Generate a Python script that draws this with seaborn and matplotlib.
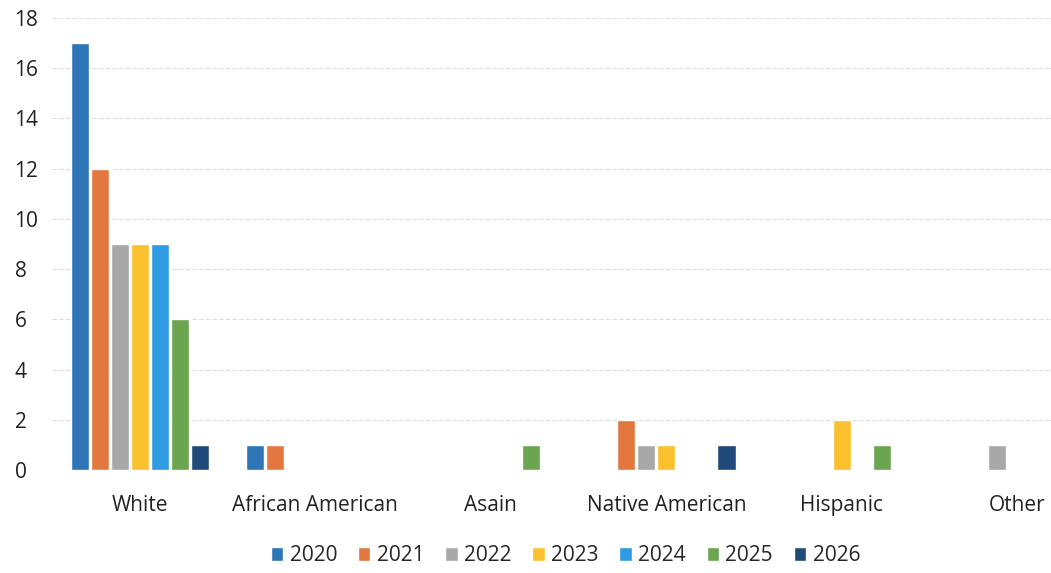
import pandas as pd
import matplotlib
matplotlib.use('Agg')
import matplotlib.pyplot as plt
import seaborn as sns

# categories and yearly counts
groups = ['White', 'African American', 'Asain', 'Native American', 'Hispanic', 'Other']
years = ['2020', '2021', '2022', '2023', '2024', '2025', '2026']
v2020 = [17, 1, 0, 0, 0, 0]
v2021 = [12, 1, 0, 2, 0, 0]
v2022 = [9, 0, 0, 1, 0, 1]
v2023 = [9, 0, 0, 1, 2, 0]
v2024 = [9, 0, 0, 0, 0, 0]
v2025 = [6, 0, 1, 0, 1, 0]
v2026 = [1, 0, 0, 1, 0, 0]
colors = ['#2E75B6', '#E2783F', '#A8A8A8', '#FBC02D', '#2F9BE3', '#6BA550', '#1F4A7A']

#build long table for seaborn
series = [v2020, v2021, v2022, v2023, v2024, v2025, v2026]
rows = []
for yr, vals in zip(years, series):
    for g, v in zip(groups, vals):
        rows.append({'group': g, 'year': yr, 'count': v})
df = pd.DataFrame(rows)

sns.set_style('white')
plt.rcParams['font.family'] = ['Open Sans', 'DejaVu Sans']

fig = plt.figure(figsize=(10.51, 5.73), dpi=100)
ax = fig.add_axes([0.0495, 0.1798, 1.002, 0.7888])

sns.barplot(data=df, x='group', y='count', hue='year', order=groups,
            hue_order=years, palette=colors, width=0.8, gap=0.1,
            saturation=1, ax=ax)

ax.set_ylim(0, 18)
ax.set_yticks(range(0, 19, 2))
ax.set_xlim(-0.5, 5.5)
ax.set_xlabel('')
ax.set_ylabel('')
ax.grid(axis='y', color='#DCDCDC', linestyle=(0, (4, 2)), linewidth=0.8)
ax.set_axisbelow(True)
for s in ax.spines.values():
    s.set_visible(False)
ax.tick_params(axis='y', length=0, labelsize=15, pad=27, colors='#222222')
ax.tick_params(axis='x', length=0, labelsize=15, pad=18, colors='#222222')
for lbl in ax.get_yticklabels():
    lbl.set_horizontalalignment('left')

#legend under the chart
ax.legend(loc='center', bbox_to_anchor=(0.538, 0.03), bbox_transform=fig.transFigure,
          ncol=7, frameon=False, fontsize=15, handlelength=0.6, handleheight=0.6,
          handletextpad=0.3, columnspacing=1.0)

fig.savefig('out.png', dpi=100)
